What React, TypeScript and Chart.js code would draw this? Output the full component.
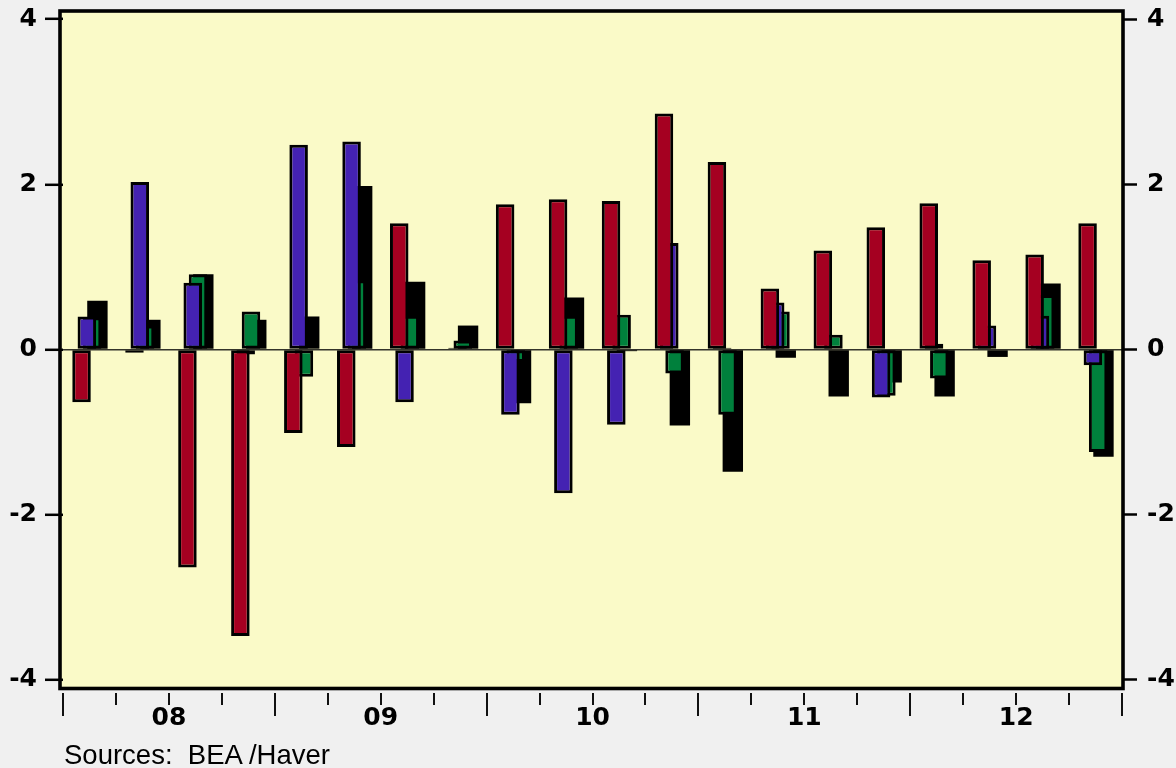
import React, { useEffect, useRef } from 'react';
import { Chart, registerables } from 'chart.js';

Chart.register(...registerables);

// Quarterly categories 2008Q1 .. 2012Q4
const quarters = [
  '2008Q1', '2008Q2', '2008Q3', '2008Q4',
  '2009Q1', '2009Q2', '2009Q3', '2009Q4',
  '2010Q1', '2010Q2', '2010Q3', '2010Q4',
  '2011Q1', '2011Q2', '2011Q3', '2011Q4',
  '2012Q1', '2012Q2', '2012Q3', '2012Q4',
];
const yearLabels = ['08', '09', '10', '11', '12'];
const yTickValues = [-4, -2, 0, 2, 4];

const redSeries = [-0.64, -0.04, -2.64, -3.47, -1.01, -1.18, 1.53, 0.0, 1.76, 1.82, 1.8, 2.86, 2.27, 0.74, 1.2, 1.48, 1.77, 1.08, 1.15, 1.53];
const blueSeries = [0.4, 2.03, 0.81, -0.06, 2.48, 2.52, -0.64, 0.02, -0.79, -1.74, -0.91, 1.29, 0.02, 0.57, 0.01, -0.58, 0.07, 0.29, 0.41, -0.19];
const greenSeries = [0.39, 0.29, 0.91, 0.46, -0.33, 0.84, 0.41, 0.11, -0.15, 0.41, 0.42, -0.29, -0.79, 0.46, 0.18, -0.56, -0.35, 0.0, 0.66, -1.24];
const blackSeries = [0.59, 0.36, 0.91, 0.36, 0.4, 1.98, 0.82, 0.29, -0.65, 0.63, -0.02, -0.92, -1.48, -0.1, -0.57, -0.4, -0.57, -0.09, 0.8, -1.3];

const tickFont = { family: '"DejaVu Sans", sans-serif', size: 25, weight: 'bold' as const, lineHeight: 1.2 };

const framePlugin = {
  id: 'framePlugin',
  beforeDraw(chart: any) {
    const { ctx, chartArea: a } = chart;
    ctx.save();
    ctx.fillStyle = '#FAFAC8';
    ctx.fillRect(a.left - 3, a.top, a.right + 1 - (a.left - 3), a.bottom - a.top);
    ctx.restore();
  },
  afterDraw(chart: any) {
    const { ctx, chartArea: a } = chart;
    const xs = chart.scales.x;
    ctx.save();
    ctx.strokeStyle = '#000';
    ctx.lineWidth = 3.6;
    ctx.strokeRect(a.left - 3, a.top, a.right + 1 - (a.left - 3), a.bottom - a.top + 0.5);
    const n = quarters.length;
    const w = n > 1 ? xs.getPixelForValue(1) - xs.getPixelForValue(0) : a.right - a.left;
    ctx.lineWidth = 2;
    ctx.strokeStyle = '#111';
    for (let k = 0; k <= n; k++) {
      const x = Math.round(xs.getPixelForValue(0) - w / 2 + k * w);
      const long = k % 4 === 0;
      ctx.beginPath();
      ctx.moveTo(x, a.bottom + 5);
      ctx.lineTo(x, a.bottom + (long ? 28 : 17));
      ctx.stroke();
    }
    ctx.restore();
  },
};

export default function App() {
  const canvasRef = useRef<HTMLCanvasElement | null>(null);

  useEffect(() => {
    const canvas = canvasRef.current;
    if (!canvas) return;
    const common = {
      borderColor: '#000',
      borderWidth: 3,
      borderSkipped: false as const,
      categoryPercentage: 0.4,
      barPercentage: 3.5,
    };
    const chart = new Chart(canvas, {
      type: 'bar',
      data: {
        labels: quarters,
        datasets: [
          { ...common, data: redSeries, backgroundColor: '#A50021' },
          { ...common, data: blueSeries, backgroundColor: '#4422B2' },
          { ...common, data: greenSeries, backgroundColor: '#00803C' },
          { ...common, data: blackSeries, backgroundColor: '#000000', borderWidth: 0, barPercentage: 3.85 },
        ],
      },
      options: {
        animation: false,
        responsive: false,
        maintainAspectRatio: false,
        layout: { padding: { top: 11, left: 0, right: 0, bottom: 0 } },
        plugins: {
          legend: { display: false },
          tooltip: { enabled: false },
        },
        scales: {
          x: {
            type: 'category',
            offset: true,
            grid: { display: false, drawTicks: false, offset: true },
            border: { display: false },
            ticks: {
              autoSkip: false,
              maxRotation: 0,
              minRotation: 0,
              labelOffset: 26.5,
              padding: 15,
              color: '#000',
              font: tickFont,
              callback: (_v: any, i: number) => (i % 4 === 1 ? yearLabels[Math.floor(i / 4)] : ''),
            },
            afterFit: (s: any) => {
              s.height = 80;
              s.paddingLeft = 0;
              s.paddingRight = 0;
            },
          },
          y: {
            position: 'left',
            min: -4.1,
            max: 4.1,
            afterBuildTicks: (s: any) => {
              s.ticks = yTickValues.map((v) => ({ value: v }));
            },
            grid: {
              color: (ctx: any) => (ctx.tick && ctx.tick.value === 0 ? '#33332a' : 'rgba(0,0,0,0)'),
              lineWidth: 1.6,
              drawTicks: true,
              tickLength: 18,
              tickColor: '#000',
              tickWidth: 2.5,
            },
            border: { display: false },
            ticks: { padding: 8, color: '#000', font: tickFont },
            afterFit: (s: any) => {
              s.width = 63;
              s.paddingTop = 0;
              s.paddingBottom = 0;
            },
          },
          y2: {
            position: 'right',
            min: -4.1,
            max: 4.1,
            afterBuildTicks: (s: any) => {
              s.ticks = yTickValues.map((v) => ({ value: v }));
            },
            grid: {
              drawOnChartArea: false,
              drawTicks: true,
              tickLength: 15,
              tickColor: '#000',
              tickWidth: 2.5,
            },
            border: { display: false },
            ticks: { padding: 10, color: '#000', font: tickFont },
            afterFit: (s: any) => {
              s.width = 54;
              s.paddingTop = 0;
              s.paddingBottom = 0;
            },
          },
        },
      },
      plugins: [framePlugin],
    });
    return () => chart.destroy();
  }, []);

  return (
    <div
      style={{
        position: 'fixed',
        left: 0,
        top: 0,
        width: 1176,
        height: 768,
        background: '#F0F0F0',
        overflow: 'hidden',
      }}
    >
      <canvas ref={canvasRef} width={1176} height={768} style={{ width: 1176, height: 768, display: 'block' }} />
      <div
        style={{
          position: 'absolute',
          left: 64,
          top: 741,
          fontFamily: '"Liberation Sans", Arial, sans-serif',
          fontSize: 27.5,
          lineHeight: '27px',
          color: '#000',
          whiteSpace: 'pre',
        }}
      >
        {'Sources:  BEA /Haver'}
      </div>
    </div>
  );
}
